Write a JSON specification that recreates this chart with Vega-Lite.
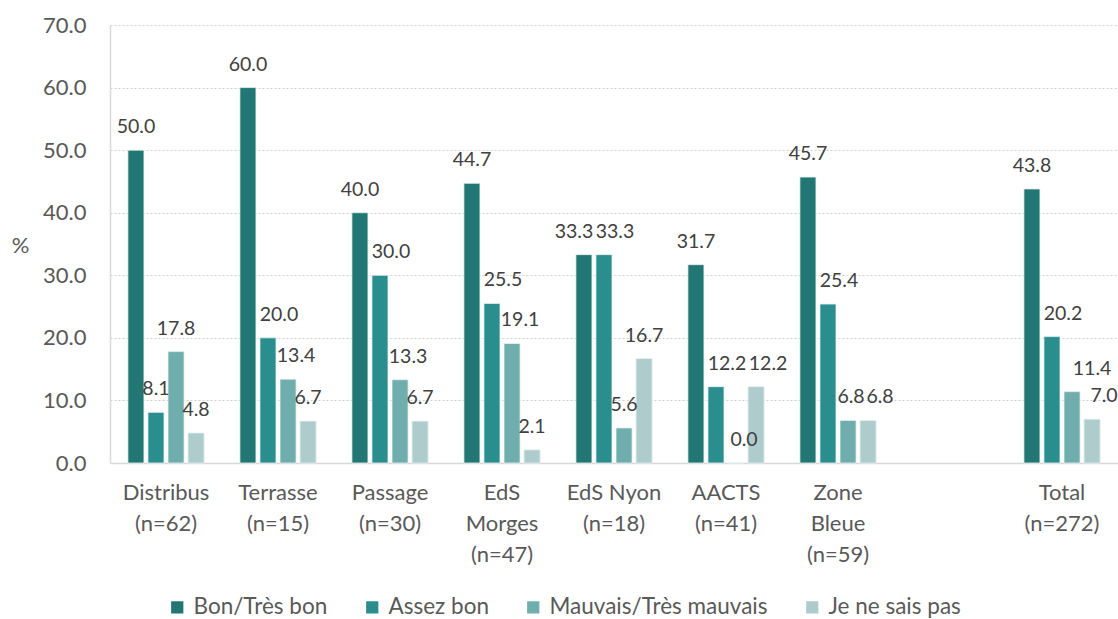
{
  "$schema": "https://vega.github.io/schema/vega-lite/v6.json",
  "width": 1008,
  "height": 438,
  "autosize": "none",
  "padding": {"left": 110, "top": 25, "right": 0, "bottom": 156},
  "background": "white",
  "config": {"view": {"stroke": null}, "font": "Lato", "text": {"baseline": "alphabetic", "dy": -17, "fontSize": 19.5, "color": "#404040"}},
  "data": {
    "values": [
      {"cat": "Distribus|(n=62)", "resp": "Bon/Très bon", "v": 50.0},
      {"cat": "Distribus|(n=62)", "resp": "Assez bon", "v": 8.1},
      {"cat": "Distribus|(n=62)", "resp": "Mauvais/Très mauvais", "v": 17.8},
      {"cat": "Distribus|(n=62)", "resp": "Je ne sais pas", "v": 4.8},
      {"cat": "Terrasse|(n=15)", "resp": "Bon/Très bon", "v": 60.0},
      {"cat": "Terrasse|(n=15)", "resp": "Assez bon", "v": 20.0},
      {"cat": "Terrasse|(n=15)", "resp": "Mauvais/Très mauvais", "v": 13.4},
      {"cat": "Terrasse|(n=15)", "resp": "Je ne sais pas", "v": 6.7},
      {"cat": "Passage|(n=30)", "resp": "Bon/Très bon", "v": 40.0},
      {"cat": "Passage|(n=30)", "resp": "Assez bon", "v": 30.0},
      {"cat": "Passage|(n=30)", "resp": "Mauvais/Très mauvais", "v": 13.3},
      {"cat": "Passage|(n=30)", "resp": "Je ne sais pas", "v": 6.7},
      {"cat": "EdS|Morges|(n=47)", "resp": "Bon/Très bon", "v": 44.7},
      {"cat": "EdS|Morges|(n=47)", "resp": "Assez bon", "v": 25.5},
      {"cat": "EdS|Morges|(n=47)", "resp": "Mauvais/Très mauvais", "v": 19.1},
      {"cat": "EdS|Morges|(n=47)", "resp": "Je ne sais pas", "v": 2.1},
      {"cat": "EdS Nyon|(n=18)", "resp": "Bon/Très bon", "v": 33.3},
      {"cat": "EdS Nyon|(n=18)", "resp": "Assez bon", "v": 33.3},
      {"cat": "EdS Nyon|(n=18)", "resp": "Mauvais/Très mauvais", "v": 5.6},
      {"cat": "EdS Nyon|(n=18)", "resp": "Je ne sais pas", "v": 16.7},
      {"cat": "AACTS|(n=41)", "resp": "Bon/Très bon", "v": 31.7},
      {"cat": "AACTS|(n=41)", "resp": "Assez bon", "v": 12.2},
      {"cat": "AACTS|(n=41)", "resp": "Mauvais/Très mauvais", "v": 0.0},
      {"cat": "AACTS|(n=41)", "resp": "Je ne sais pas", "v": 12.2},
      {"cat": "Zone|Bleue|(n=59)", "resp": "Bon/Très bon", "v": 45.7},
      {"cat": "Zone|Bleue|(n=59)", "resp": "Assez bon", "v": 25.4},
      {"cat": "Zone|Bleue|(n=59)", "resp": "Mauvais/Très mauvais", "v": 6.8},
      {"cat": "Zone|Bleue|(n=59)", "resp": "Je ne sais pas", "v": 6.8},
      {"cat": "Total|(n=272)", "resp": "Bon/Très bon", "v": 43.8},
      {"cat": "Total|(n=272)", "resp": "Assez bon", "v": 20.2},
      {"cat": "Total|(n=272)", "resp": "Mauvais/Très mauvais", "v": 11.4},
      {"cat": "Total|(n=272)", "resp": "Je ne sais pas", "v": 7.0}
    ]
  },
  "encoding": {
    "x": {
      "field": "cat",
      "type": "nominal",
      "sort": null,
      "scale": {
        "domain": ["Distribus|(n=62)", "Terrasse|(n=15)", "Passage|(n=30)", "EdS|Morges|(n=47)", "EdS Nyon|(n=18)", "AACTS|(n=41)", "Zone|Bleue|(n=59)", " ", "Total|(n=272)"],
        "paddingInner": 0.32,
        "paddingOuter": 0.16
      },
      "axis": {
        "title": null,
        "labelAngle": 0,
        "labelExpr": "split(datum.value, '|')",
        "labelFontSize": 22,
        "labelColor": "#595959",
        "labelPadding": 19,
        "labelLineHeight": 31,
        "ticks": false,
        "domainColor": "#d9d9d9",
        "domainWidth": 1.5,
        "grid": false
      }
    },
    "xOffset": {
      "field": "resp",
      "type": "nominal",
      "sort": null,
      "scale": {"domain": ["Bon/Très bon", "Assez bon", "Mauvais/Très mauvais", "Je ne sais pas"], "paddingInner": 0.2}
    },
    "y": {
      "field": "v",
      "type": "quantitative",
      "scale": {"domain": [0, 70]},
      "axis": {
        "title": "%",
        "titleAngle": 0,
        "titleX": -90,
        "titleY": 220,
        "titleAlign": "center",
        "titleBaseline": "middle",
        "titleFontSize": 22,
        "titleFontWeight": "normal",
        "titleColor": "#595959",
        "format": ".1f",
        "values": [0, 10, 20, 30, 40, 50, 60, 70],
        "labelFontSize": 22,
        "labelColor": "#595959",
        "labelPadding": 24,
        "ticks": false,
        "domain": true,
        "domainColor": "#d9d9d9",
        "domainWidth": 1.5,
        "grid": true,
        "gridColor": "#cfcfcf",
        "gridDash": [2, 2]
      }
    },
    "text": {"field": "v", "type": "quantitative", "format": ".1f"}
  },
  "layer": [
    {
      "mark": {"type": "bar", "stroke": "#e6f0f0", "strokeWidth": 0.8},
      "encoding": {
        "text": null,
        "color": {
          "field": "resp",
          "type": "nominal",
          "sort": null,
          "scale": {
            "domain": ["Bon/Très bon", "Assez bon", "Mauvais/Très mauvais", "Je ne sais pas"],
            "range": ["#227775", "#2a8e8f", "#70adad", "#afcccc"]
          },
          "legend": {
            "title": null,
            "orient": "none",
            "direction": "horizontal",
            "legendX": 56,
            "legendY": 571,
            "symbolType": "square",
            "symbolSize": 150,
            "symbolStrokeWidth": 0,
            "labelFontSize": 22.5,
            "labelColor": "#595959",
            "labelOffset": 5,
            "columnPadding": 33,
            "labelLimit": 400
          }
        }
      }
    },
    {
      "transform": [{"filter": "datum.resp == 'Bon/Très bon' && datum.cat != 'EdS Nyon|(n=18)'"}],
      "mark": {"type": "text", "dx": 0}
    },
    {
      "transform": [{"filter": "datum.resp == 'Bon/Très bon' && datum.cat == 'EdS Nyon|(n=18)'"}],
      "mark": {"type": "text", "dx": -10}
    },
    {
      "transform": [{"filter": "datum.resp == 'Assez bon' && datum.cat != 'Distribus|(n=62)'"}],
      "mark": {"type": "text", "dx": 11}
    },
    {
      "transform": [{"filter": "datum.resp == 'Assez bon' && datum.cat == 'Distribus|(n=62)'"}],
      "mark": {"type": "text", "dx": 0}
    },
    {
      "transform": [{"filter": "datum.resp == 'Mauvais/Très mauvais' && indexof(['Distribus|(n=62)', 'EdS Nyon|(n=18)', 'Zone|Bleue|(n=59)', 'Total|(n=272)'], datum.cat) < 0"}],
      "mark": {"type": "text", "dx": 8}
    },
    {
      "transform": [{"filter": "datum.resp == 'Mauvais/Très mauvais' && indexof(['Distribus|(n=62)', 'EdS Nyon|(n=18)'], datum.cat) >= 0"}],
      "mark": {"type": "text", "dx": 0}
    },
    {
      "transform": [{"filter": "datum.resp == 'Mauvais/Très mauvais' && datum.cat == 'Zone|Bleue|(n=59)'"}],
      "mark": {"type": "text", "dx": 3}
    },
    {
      "transform": [{"filter": "datum.resp == 'Mauvais/Très mauvais' && datum.cat == 'Total|(n=272)'"}],
      "mark": {"type": "text", "dx": 20}
    },
    {
      "transform": [{"filter": "datum.resp == 'Je ne sais pas' && indexof(['AACTS|(n=41)', 'Zone|Bleue|(n=59)', 'Total|(n=272)'], datum.cat) < 0"}],
      "mark": {"type": "text", "dx": 0}
    },
    {
      "transform": [{"filter": "datum.resp == 'Je ne sais pas' && indexof(['AACTS|(n=41)', 'Zone|Bleue|(n=59)', 'Total|(n=272)'], datum.cat) >= 0"}],
      "mark": {"type": "text", "dx": 12}
    }
  ]
}
